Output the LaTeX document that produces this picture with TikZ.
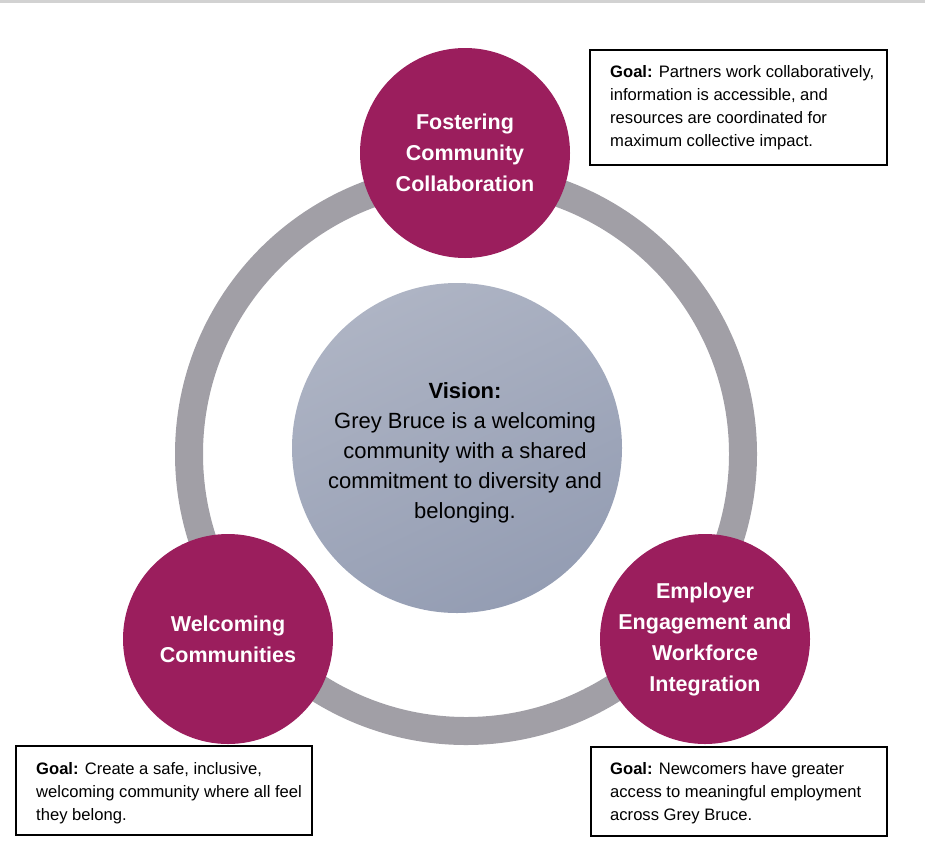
\documentclass[tikz,border=0pt]{standalone}
\usepackage{fontspec}
\setmainfont{Liberation Sans}
\usepackage{xcolor}
\usepackage{tikz}
\usetikzlibrary{positioning}

\definecolor{plum}{RGB}{155,30,93}
\definecolor{ringgray}{RGB}{161,159,166}
\definecolor{visiontop}{RGB}{174,180,196}
\definecolor{visionbot}{RGB}{148,157,179}
\definecolor{rulegray}{RGB}{210,210,210}

\begin{document}
\begin{tikzpicture}[
  x=1pt, y=-1pt,
  pillar/.style={circle, fill=plum, text=white, minimum size=210pt, inner sep=0pt, align=center,
    font=\fontsize{21.5}{31}\selectfont\bfseries},
  vision/.style={circle, minimum size=330pt, inner sep=0pt, top color=visiontop, bottom color=visionbot, shading angle=25},
  goalbox/.style={draw, line width=2pt, rectangle, inner sep=0pt},
  goaltext/.style={align=left, inner sep=0pt, font=\fontsize{16.6}{23}\selectfont}
]
\useasboundingbox (0,0) rectangle (925,865);

% Anneau et vision
\fill[rulegray] (0,0) rectangle (925,2.5);
\coordinate (hub) at (466,454);
\draw[ringgray, line width=28pt] (hub) circle[radius=277];

\node[vision] (vision) at (457,448) {};
\node[align=center, font=\fontsize{22}{30}\selectfont] (visiontxt) at (465,453) {\textbf{Vision:}\\
  Grey Bruce is a welcoming\\
  community with a shared\\
  commitment to diversity and\\
  belonging.};

% Piliers
\node[pillar] (collab) at (465,153) {Fostering\\Community\\Collaboration};
\node[pillar] (welcome) at (228,639) {Welcoming\\Communities};
\node[pillar] (employ) at (705,639) {Employer\\Engagement and\\Workforce\\Integration};

% Objectifs
\node[goalbox, minimum width=297pt, minimum height=115pt] (collabgoal) at (738.5,107.5) {};
\node[goaltext, right=21pt of collabgoal.west] (collabgoaltxt) {\textbf{Goal:} Partners work collaboratively,\\
  information is accessible, and\\
  resources are coordinated for\\
  maximum collective impact.};

\node[goalbox, minimum width=296pt, minimum height=89pt] (welcomegoal) at (164,790.5) {};
\node[goaltext, right=21pt of welcomegoal.west, yshift=-2.5pt] (welcomegoaltxt) {\textbf{Goal:} Create a safe, inclusive,\\
  welcoming community where all feel\\
  they belong.};

\node[goalbox, minimum width=296pt, minimum height=89pt] (employgoal) at (739,791.5) {};
\node[goaltext, right=20pt of employgoal.west, yshift=-2pt] (employgoaltxt) {\textbf{Goal:} Newcomers have greater\\
  access to meaningful employment\\
  across Grey Bruce.};

\end{tikzpicture}
\end{document}
